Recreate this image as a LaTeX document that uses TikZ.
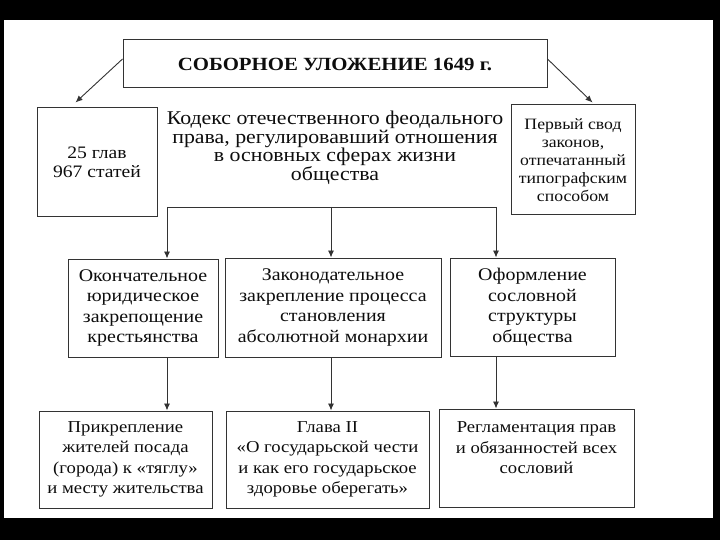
\documentclass[tikz,border=0pt]{standalone}
\usepackage{fontspec}
\setmainfont[FakeStretch=1.12]{Liberation Serif}
\usetikzlibrary{arrows.meta,calc}
\begin{document}
\begin{tikzpicture}[x=1pt,y=-1pt,
  box/.style={draw=black!80, line width=1pt, align=center, inner sep=0pt, text=black!95},
  arr/.style={draw=black!80, line width=0.9pt, -{Latex[length=7pt,width=6pt]}},
  ln/.style={draw=black!80, line width=0.9pt}]
\fill[black] (0,0) rectangle (720,540);
\fill[white] (4,20) rectangle (713,518);
\useasboundingbox (0,0) rectangle (720,540);

\node[box, minimum width=424, minimum height=48, font=\fontsize{18.6}{22}\selectfont\bfseries] (top) at (335,64) {СОБОРНОЕ УЛОЖЕНИЕ 1649 г.};

\node[box, minimum width=120, minimum height=109, font=\fontsize{17.5}{19}\selectfont] (lb) at (97,162.5) {25 глав\\967 статей};

\node[box, minimum width=124, minimum height=110, font=\fontsize{15.8}{18}\selectfont] (rb) at (573,160) {Первый свод\\законов,\\отпечатанный\\типографским\\способом};

\node[align=center, inner sep=0pt, text=black!95, font=\fontsize{19.5}{16.8}\selectfont] (ct) at (335,148) {Кодекс отечественного феодального\\права, регулировавший отношения\\в основных сферах жизни\\общества};

\node[box, minimum width=150, minimum height=98, font=\fontsize{17.8}{20.5}\selectfont] (m1) at (143,308) {Окончательное\\юридическое\\закрепощение\\крестьянства};
\node[box, minimum width=216, minimum height=99, font=\fontsize{17.8}{20.5}\selectfont] (m2) at (333,307.5) {Законодательное\\закрепление процесса\\становления\\абсолютной монархии};
\node[box, minimum width=165, minimum height=98, font=\fontsize{17.8}{20.5}\selectfont] (m3) at (532.5,307) {Оформление\\сословной\\структуры\\общества};

\node[box, minimum width=173, minimum height=97, font=\fontsize{16.7}{20.5}\selectfont] (b1) at (125.5,459.5) {Прикрепление\\жителей посада\\(города) к «тяглу»\\и месту жительства};
\node[box, minimum width=203, minimum height=97, font=\fontsize{16.7}{20.5}\selectfont] (b2) at (327.5,459.5) {Глава II\\«О государьской чести\\и как его государьское\\здоровье оберегать»};
\node[box, minimum width=195, minimum height=98, font=\fontsize{16.7}{20.5}\selectfont] (b3) at (536.5,458) {Регламентация прав\\и обязанностей всех\\сословий\\~};

\draw[arr] ($(top.west)+(0,-5)$) -- ($(lb.north west)+(39,-5)$);
\draw[arr] ($(top.east)+(0,-5)$) -- ($(rb.north west)+(82,-2)$);

\coordinate (hl) at (167,207);
\coordinate (hm) at (331,207);
\coordinate (hr) at (496,207);
\draw[ln] (hl) -- (hr);
\draw[arr] (hl) -- (hl |- m1.north);
\draw[arr] (hm) -- (hm |- m2.north);
\draw[arr] (hr) -- (hr |- m3.north);
\draw[arr] (hl |- m1.south) -- (hl |- b1.north);
\draw[arr] (hm |- m2.south) -- (hm |- b2.north);
\draw[arr] (hr |- m3.south) -- (hr |- b3.north);
\end{tikzpicture}
\end{document}
